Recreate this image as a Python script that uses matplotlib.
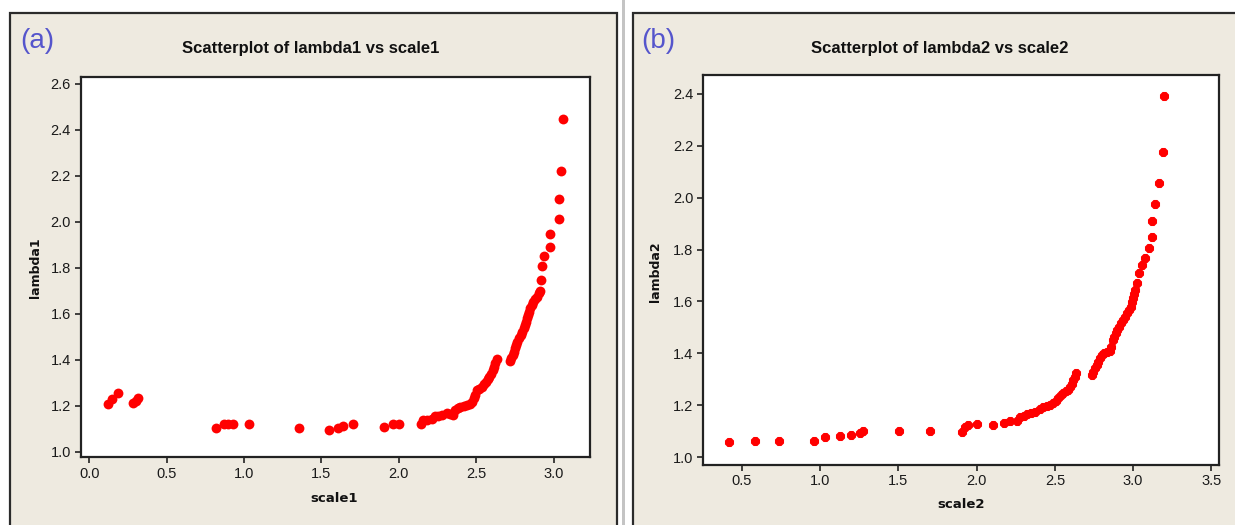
import numpy as np
import matplotlib
matplotlib.use('Agg')
import matplotlib.pyplot as plt
from matplotlib.patches import Rectangle

# --- data ---
scale1 = [0.118, 0.148, 0.183, 0.284, 0.301, 0.316, 0.818, 0.870, 0.898, 0.926,
          1.032, 1.355, 1.551, 1.605, 1.637, 1.702, 1.904, 1.961, 2.001, 2.142,
          2.159, 2.185, 2.213, 2.234, 2.255, 2.277, 2.310, 2.330, 2.352, 2.363,
          2.380, 2.396, 2.420, 2.439, 2.460, 2.471, 2.485, 2.493, 2.508, 2.520,
          2.536, 2.550, 2.564, 2.575, 2.585, 2.597, 2.607, 2.615, 2.622, 2.637,
          2.719, 2.728, 2.736, 2.744, 2.751, 2.760, 2.766, 2.778, 2.788, 2.798,
          2.809, 2.818, 2.822, 2.830, 2.837, 2.842, 2.848, 2.860, 2.870, 2.880,
          2.891, 2.905, 2.913, 2.921, 2.926, 2.941, 2.977, 2.977, 3.034, 3.034,
          3.050, 3.059]
lambda1 = [1.206, 1.229, 1.254, 1.213, 1.222, 1.232, 1.103, 1.119, 1.119, 1.119,
           1.120, 1.103, 1.096, 1.103, 1.112, 1.119, 1.109, 1.119, 1.119, 1.119,
           1.138, 1.138, 1.141, 1.155, 1.155, 1.160, 1.167, 1.165, 1.160, 1.181,
           1.190, 1.196, 1.200, 1.203, 1.210, 1.218, 1.232, 1.247, 1.268, 1.275,
           1.283, 1.295, 1.305, 1.315, 1.326, 1.340, 1.356, 1.370, 1.385, 1.402,
           1.396, 1.408, 1.421, 1.435, 1.450, 1.465, 1.479, 1.494, 1.508, 1.522,
           1.537, 1.552, 1.566, 1.580, 1.595, 1.610, 1.624, 1.640, 1.653, 1.665,
           1.675, 1.690, 1.701, 1.747, 1.808, 1.852, 1.892, 1.946, 2.011, 2.098,
           2.223, 2.446]

scale2 = [0.417, 0.585, 0.736, 0.958, 1.032, 1.128, 1.198, 1.254, 1.271, 1.503,
          1.703, 1.904, 1.925, 1.946, 2.000, 2.102, 2.174, 2.212, 2.255, 2.276,
          2.300, 2.319, 2.345, 2.372, 2.404, 2.425, 2.447, 2.470, 2.489, 2.505,
          2.521, 2.538, 2.553, 2.570, 2.585, 2.597, 2.607, 2.618, 2.628, 2.634,
          2.735, 2.746, 2.756, 2.767, 2.777, 2.788, 2.798, 2.815, 2.830, 2.852,
          2.860, 2.873, 2.880, 2.890, 2.900, 2.911, 2.925, 2.937, 2.948, 2.958,
          2.972, 2.984, 2.991, 2.997, 3.004, 3.011, 3.026, 3.039, 3.054, 3.075,
          3.103, 3.120, 3.120, 3.141, 3.163, 3.188, 3.197]
lambda2 = [1.060, 1.064, 1.064, 1.063, 1.078, 1.082, 1.086, 1.092, 1.103, 1.101,
           1.103, 1.099, 1.115, 1.124, 1.128, 1.126, 1.133, 1.141, 1.141, 1.154,
           1.160, 1.167, 1.170, 1.176, 1.185, 1.192, 1.198, 1.203, 1.208, 1.218,
           1.227, 1.238, 1.249, 1.255, 1.259, 1.270, 1.282, 1.296, 1.311, 1.326,
           1.317, 1.330, 1.343, 1.356, 1.368, 1.381, 1.394, 1.401, 1.407, 1.410,
           1.426, 1.452, 1.465, 1.478, 1.490, 1.503, 1.516, 1.529, 1.542, 1.555,
           1.568, 1.580, 1.597, 1.613, 1.629, 1.645, 1.671, 1.709, 1.741, 1.767,
           1.805, 1.850, 1.909, 1.976, 2.058, 2.177, 2.392]

xticks1 = [0.0, 0.5, 1.0, 1.5, 2.0, 2.5, 3.0]
yticks1 = [1.0, 1.2, 1.4, 1.6, 1.8, 2.0, 2.2, 2.4, 2.6]
xticks2 = [0.5, 1.0, 1.5, 2.0, 2.5, 3.0, 3.5]
yticks2 = [1.0, 1.2, 1.4, 1.6, 1.8, 2.0, 2.2, 2.4]

NARROW = ['Liberation Sans Narrow', 'Liberation Sans', 'DejaVu Sans']
PANEL_BG = '#eeeae0'
W, H = 1235, 525


def px_box(x0, y0, x1, y1):
    # pixel box (top-left origin) -> figure fraction [left, bottom, width, height]
    return [x0 / W, 1 - y1 / H, (x1 - x0) / W, (y1 - y0) / H]


def draw_panel(fig, frame, axbox, letter, letter_xy, title, title_xy,
               x, y, xlabel, ylabel, xlabel_xy, ylabel_xy,
               xlim, ylim, xticks, yticks, marker):
    # beige panel with dark frame (kept behind the axes)
    fig.patches.append(Rectangle((frame[0], frame[1]), frame[2], frame[3],
                                 transform=fig.transFigure, facecolor=PANEL_BG,
                                 edgecolor='#2b2b2b', linewidth=1.6, zorder=-10))

    ax = fig.add_axes(px_box(*axbox))
    ax.set_facecolor('white')
    ax.scatter(x, y, s=50, color='#ff0000', marker=marker, linewidths=0, zorder=3)
    ax.set_xlim(*xlim)
    ax.set_ylim(*ylim)
    ax.set_xticks(xticks)
    ax.set_yticks(yticks)
    ax.set_xticklabels([f'{v:.1f}' for v in xticks], family=NARROW, fontsize=10.5)
    ax.set_yticklabels([f'{v:.1f}' for v in yticks], family=NARROW, fontsize=10.5)
    ax.tick_params(direction='out', length=4, width=1.2, color='#222222',
                   labelcolor='#1a1a1a', pad=3)
    for sp in ax.spines.values():
        sp.set_linewidth(1.6)
        sp.set_color('#222222')

    fig.text(letter_xy[0] / W, 1 - letter_xy[1] / H, letter, fontsize=20,
             color='#5555cc', ha='center', va='center', family=NARROW)
    fig.text(title_xy[0] / W, 1 - title_xy[1] / H, title, fontsize=12,
             fontweight='bold', ha='center', va='center', family=NARROW,
             color='#111111')
    fig.text(xlabel_xy[0] / W, 1 - xlabel_xy[1] / H, xlabel, fontsize=9.5,
             fontweight='bold', ha='center', va='center', color='#111111')
    fig.text(ylabel_xy[0] / W, 1 - ylabel_xy[1] / H, ylabel, fontsize=9,
             fontweight='bold', ha='center', va='center', rotation=90,
             color='#111111')
    return ax


fig = plt.figure(figsize=(12.35, 5.25), dpi=100)
fig.patch.set_facecolor('white')

# thin grey divider between the two panels
fig.patches.append(Rectangle((622 / W, 0), 2.5 / W, 1, transform=fig.transFigure,
                             facecolor='#c4c4c4', edgecolor='none', zorder=-10))

# --- (a) ---
draw_panel(fig, [10 / W, -0.05, 607 / W, 1.05 - 12.7 / H],
           (80.7, 77.3, 590.4, 457.3), '(a)', (37, 41),
           'Scatterplot of lambda1 vs scale1', (311, 48),
           scale1, lambda1, 'scale1', 'lambda1', (334, 499), (35, 268),
           (-0.056, 3.238), (0.976, 2.629), xticks1, yticks1, 'o')

# --- (b) ---
draw_panel(fig, [632.5 / W, -0.05, 0.6, 1.05 - 13.3 / H],
           (703.1, 75.0, 1219.2, 464.7), '(b)', (658, 41),
           'Scatterplot of lambda2 vs scale2', (940, 48),
           scale2, lambda2, 'scale2', 'lambda2', (961, 505), (656, 272),
           (0.2515, 3.55), (0.9715, 2.472), xticks2, yticks2, '8')

fig.savefig('out.png', dpi=100)
